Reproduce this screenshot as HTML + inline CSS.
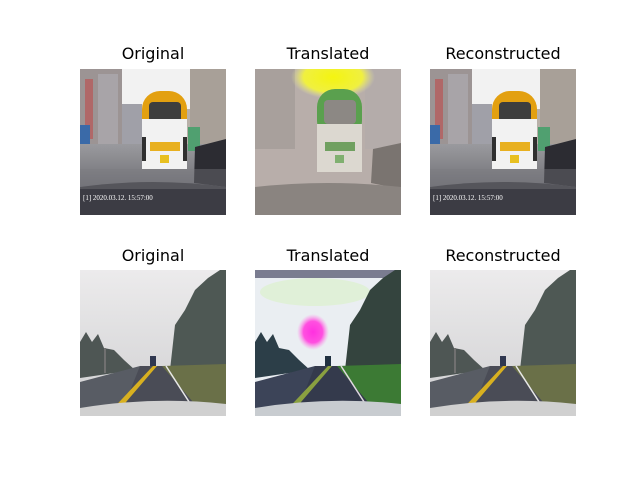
<!DOCTYPE html>
<html><head><style>
body{margin:0;background:#fff;width:640px;height:480px;overflow:hidden;position:relative;font-family:"DejaVu Sans","Liberation Sans",sans-serif}
.t{position:absolute;font-size:16px;color:#000;width:200px;text-align:center;line-height:20px}
svg{position:absolute}
</style></head><body>
<div class="t" style="left:53px;top:44px">Original</div>
<div class="t" style="left:228px;top:44px">Translated</div>
<div class="t" style="left:403px;top:44px">Reconstructed</div>
<div class="t" style="left:53px;top:246px">Original</div>
<div class="t" style="left:228px;top:246px">Translated</div>
<div class="t" style="left:403px;top:246px">Reconstructed</div>

<svg width="0" height="0" style="position:absolute">
<defs>
<linearGradient id="road" x1="0" y1="0" x2="0" y2="1"><stop offset="0" stop-color="#9a9a9e"/><stop offset="1" stop-color="#6e6e74"/></linearGradient>
<linearGradient id="fsky" x1="0" y1="0" x2="0" y2="1"><stop offset="0" stop-color="#ecebec"/><stop offset="1" stop-color="#d0d0d2"/></linearGradient>
<radialGradient id="mag"><stop offset="0" stop-color="#ff30e0"/><stop offset=".6" stop-color="#ff50e0"/><stop offset="1" stop-color="#ff90e8" stop-opacity="0"/></radialGradient>
<radialGradient id="yel"><stop offset="0" stop-color="#f4f410"/><stop offset=".7" stop-color="#f0f040"/><stop offset="1" stop-color="#e8e8a0" stop-opacity="0"/></radialGradient>
<symbol id="bus" viewBox="0 0 146 146">
<rect width="146" height="146" fill="#f2f2f2"/>
<rect x="0" y="0" width="42" height="80" fill="#9c9494"/>
<rect x="5" y="10" width="8" height="60" fill="#b06868"/>
<rect x="18" y="5" width="20" height="70" fill="#a8a4a8"/>
<rect x="42" y="35" width="20" height="45" fill="#a0a0a8"/>
<rect x="110" y="0" width="36" height="78" fill="#a8a098"/>
<rect x="96" y="40" width="14" height="40" fill="#b8b0a8"/>
<rect x="0" y="56" width="10" height="40" fill="#3a6aa8"/>
<rect x="0" y="75" width="146" height="45" fill="url(#road)"/>
<rect x="62" y="22" width="45" height="52" rx="18" fill="#e3a010"/>
<rect x="69" y="33" width="32" height="22" rx="4" fill="#3e3e3e"/>
<rect x="62" y="50" width="45" height="50" fill="#f2f2f2"/>
<rect x="70" y="73" width="30" height="9" fill="#e8b020"/>
<rect x="62" y="68" width="4" height="24" fill="#303030"/><rect x="103" y="68" width="4" height="24" fill="#303030"/>
<rect x="80" y="86" width="9" height="8" fill="#e8c020"/>
<rect x="108" y="58" width="12" height="24" fill="#50a070"/>
<polygon points="115,78 146,70 146,118 114,114" fill="#2c2c32"/>
<path d="M0 118 Q73 108 146 118 L146 146 L0 146Z" fill="#3c3c44"/>
<rect x="0" y="100" width="146" height="20" fill="#7a7a80" opacity=".4"/>
<text x="3" y="131" font-size="7" fill="#fff" font-family="Liberation Serif,serif">[1] 2020.03.12. 15:57:00</text>
</symbol>
<symbol id="fog" viewBox="0 0 146 146">
<rect width="146" height="146" fill="url(#fsky)"/>
<polygon points="0,72 6,62 12,72 18,64 24,78 34,80 44,90 55,100 0,108" fill="#4e5654"/>
<polygon points="95,55 105,40 115,20 128,8 140,0 146,0 146,100 90,100" fill="#4e5854"/>
<polygon points="0,112 60,96 82,96 40,146 0,146" fill="#585c64"/>
<polygon points="60,96 90,96 125,146 40,146" fill="#4a4c56"/>
<polygon points="82,96 146,94 146,138 125,146" fill="#6a7048"/>
<polygon points="73,96 77,96 34,146 26,146" fill="#d8b020"/>
<line x1="86" y1="96" x2="113" y2="138" stroke="#e8e8e8" stroke-width="1.5"/>
<rect x="70" y="86" width="6" height="10" fill="#303850"/>
<rect x="24" y="78" width="2" height="25" fill="#707070"/>
<path d="M0 138 Q73 126 146 134 L146 146 L0 146Z" fill="#d0d0d0"/>
</symbol>
</defs></svg>

<svg style="left:80px;top:69px" width="146" height="146"><use href="#bus"/></svg>
<svg style="left:430px;top:69px" width="146" height="146"><use href="#bus"/></svg>
<svg style="left:255px;top:69px" width="146" height="146" viewBox="0 0 146 146">
<rect width="146" height="146" fill="#b8aeaa"/>
<rect x="0" y="0" width="40" height="80" fill="#a8a09c"/>
<rect x="110" y="0" width="36" height="80" fill="#b4acaa"/>
<ellipse cx="78" cy="8" rx="42" ry="22" fill="url(#yel)"/>
<rect x="62" y="20" width="45" height="50" rx="18" fill="#5aa04e"/>
<rect x="69" y="31" width="32" height="24" rx="4" fill="#8c8884"/>
<rect x="62" y="55" width="45" height="48" fill="#dcd8d0"/>
<rect x="70" y="73" width="30" height="9" fill="#70a060"/>
<rect x="80" y="86" width="9" height="8" fill="#80b070"/>
<polygon points="118,80 146,74 146,120 116,114" fill="#7a7470"/>
<path d="M0 118 Q73 110 146 118 L146 146 L0 146Z" fill="#8a8480"/>
</svg>
<svg style="left:80px;top:270px" width="146" height="146"><use href="#fog"/></svg>
<svg style="left:430px;top:270px" width="146" height="146"><use href="#fog"/></svg>
<svg style="left:255px;top:270px" width="146" height="146" viewBox="0 0 146 146">
<rect width="146" height="146" fill="#eaeef2"/>
<rect width="146" height="8" fill="#7a7c90"/>
<ellipse cx="60" cy="22" rx="55" ry="14" fill="#e0f0d8"/>
<polygon points="0,72 6,62 12,72 18,64 24,78 34,80 44,90 55,100 0,108" fill="#2c3e48"/>
<polygon points="95,55 105,40 115,20 128,8 140,0 146,0 146,100 90,100" fill="#34443e"/>
<ellipse cx="58" cy="62" rx="16" ry="18" fill="url(#mag)"/>
<polygon points="0,112 60,96 82,96 40,146 0,146" fill="#3c4458"/>
<polygon points="60,96 90,96 125,146 40,146" fill="#343a4c"/>
<polygon points="82,96 146,94 146,138 125,146" fill="#3c7a34"/>
<polygon points="73,96 77,96 34,146 26,146" fill="#8aa040"/>
<line x1="86" y1="96" x2="113" y2="138" stroke="#e0d8e0" stroke-width="1.5"/>
<rect x="70" y="86" width="6" height="10" fill="#203040"/>
<path d="M0 138 Q73 126 146 134 L146 146 L0 146Z" fill="#c8ccd0"/>
</svg>
</body></html>
